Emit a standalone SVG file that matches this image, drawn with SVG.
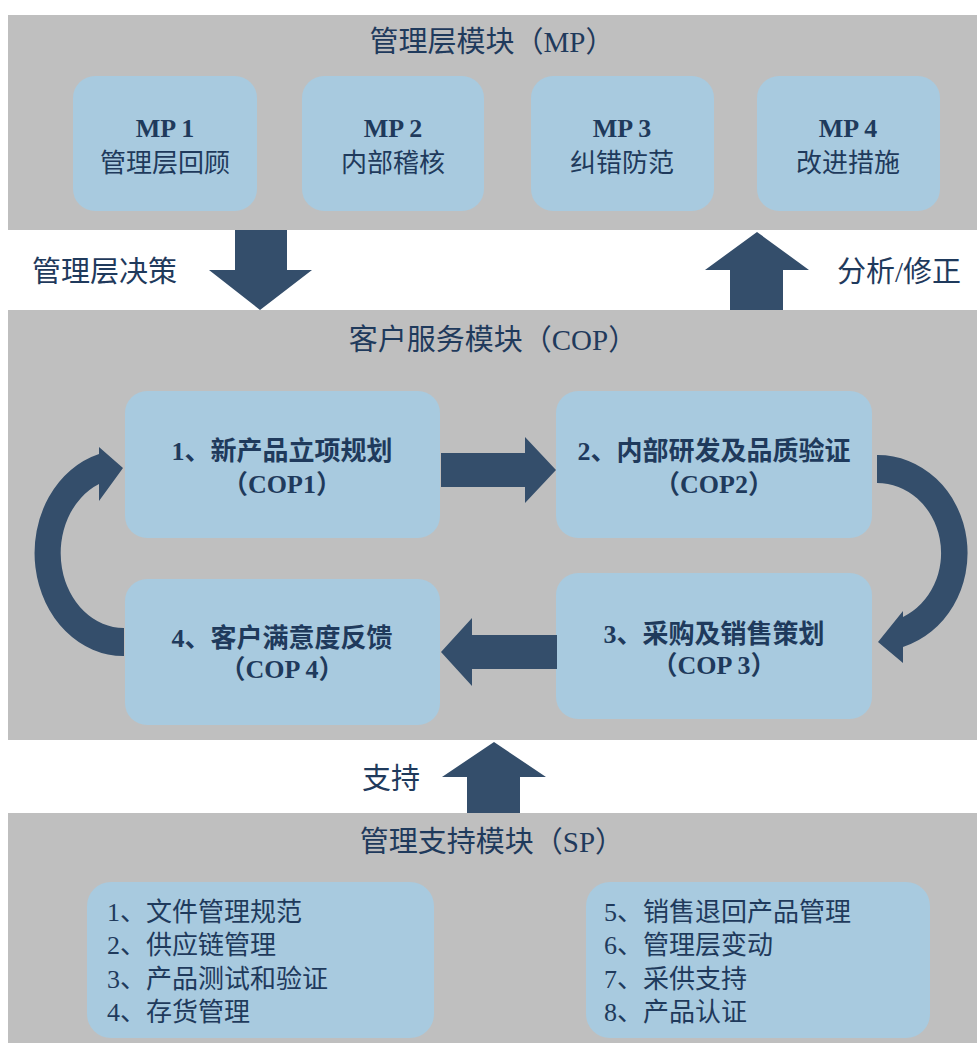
<svg xmlns="http://www.w3.org/2000/svg" width="977" height="1043" viewBox="0 0 977 1043">
<style>
.panel{fill:#bfbfbf}
.box{fill:#a8cadf}
.arr{fill:#344e6b}
text{font-family:"Liberation Serif","Noto Sans CJK SC",serif;fill:#1f3a5c}
.title{font-size:29px;text-anchor:middle}
.lbl{font-size:29px}
.mpn{font-size:26px;font-weight:bold;text-anchor:middle}
.mpt{font-size:26px;text-anchor:middle}
.cop{font-size:26px;font-weight:bold;text-anchor:middle}
.list{font-size:26px}
</style>
<rect width="977" height="1043" fill="#ffffff"/>
<g id="mp-panel">
<rect class="panel" x="8" y="15" width="969" height="215"/>
<text class="title" x="492" y="52">管理层模块（MP）</text>
</g>
<g id="mp1"><rect class="box" x="73" y="76" width="184" height="135" rx="22"/><text class="mpn" x="165" y="137">MP 1</text><text class="mpt" x="165" y="172">管理层回顾</text></g>
<g id="mp2"><rect class="box" x="302" y="76" width="182" height="135" rx="22"/><text class="mpn" x="393" y="137">MP 2</text><text class="mpt" x="393" y="172">内部稽核</text></g>
<g id="mp3"><rect class="box" x="531" y="76" width="183" height="135" rx="22"/><text class="mpn" x="622" y="137">MP 3</text><text class="mpt" x="622" y="172">纠错防范</text></g>
<g id="mp4"><rect class="box" x="757" y="76" width="183" height="135" rx="22"/><text class="mpn" x="848" y="137">MP 4</text><text class="mpt" x="848" y="172">改进措施</text></g>
<g id="cop-panel">
<rect class="panel" x="8" y="310" width="969" height="430"/>
<text class="title" x="493" y="350">客户服务模块（COP）</text>
</g>
<g id="cop1"><rect class="box" x="125" y="391" width="315" height="147" rx="22"/><text class="cop" x="282" y="460">1、新产品立项规划</text><text class="cop" x="282" y="493">（COP1）</text></g>
<g id="cop2"><rect class="box" x="556" y="391" width="316" height="147" rx="22"/><text class="cop" x="714" y="460">2、内部研发及品质验证</text><text class="cop" x="714" y="493">（COP2）</text></g>
<g id="cop3"><rect class="box" x="556" y="573" width="316" height="146" rx="22"/><text class="cop" x="714" y="643">3、采购及销售策划</text><text class="cop" x="714" y="674">（COP 3）</text></g>
<g id="cop4"><rect class="box" x="125" y="579" width="315" height="146" rx="22"/><text class="cop" x="282" y="647">4、客户满意度反馈</text><text class="cop" x="282" y="678">（COP 4）</text></g>
<g id="sp-panel">
<rect class="panel" x="8" y="813" width="969" height="230"/>
<text class="title" x="492" y="852">管理支持模块（SP）</text>
</g>
<g id="sp-left"><rect class="box" x="87" y="882" width="347" height="156" rx="24"/>
<text class="list" x="107" y="921">1、文件管理规范</text>
<text class="list" x="107" y="954">2、供应链管理</text>
<text class="list" x="107" y="988">3、产品测试和验证</text>
<text class="list" x="107" y="1021">4、存货管理</text>
</g>
<g id="sp-right"><rect class="box" x="586" y="882" width="344" height="156" rx="24"/>
<text class="list" x="604" y="921">5、销售退回产品管理</text>
<text class="list" x="604" y="954">6、管理层变动</text>
<text class="list" x="604" y="988">7、采供支持</text>
<text class="list" x="604" y="1021">8、产品认证</text>
</g>
<g id="connectors">
<polygon class="arr" points="235,230 287,230 287,270 312,270 260,310 209,270 235,270"/>
<polygon class="arr" points="730,310 783,310 783,270 809,270 757,232 705,270 730,270"/>
<polygon class="arr" points="467,813 520,813 520,777 546,777 494,742 442,777 467,777"/>
<polygon class="arr" points="441,453 525,453 525,437 556,470 525,503 525,487 441,487"/>
<polygon class="arr" points="557,635 472,635 472,618 441,652 472,686 472,669 557,669"/>
<path class="arr" d="M877,455 A90,98 0 0 1 903,647 L903,663 L878,642 L903,611 L903,617 A64,70 0 0 0 877,483 Z"/>
<path class="arr" d="M124,656 A89,103 0 0 1 99,454 L99,447 L123,468 L99,501 L99,484 A63,75 0 0 0 124,628 Z"/>
</g>
<g id="labels">
<text class="lbl" x="32" y="282">管理层决策</text>
<text class="lbl" x="837" y="282">分析/修正</text>
<text class="lbl" x="362" y="789">支持</text>
</g>
</svg>
